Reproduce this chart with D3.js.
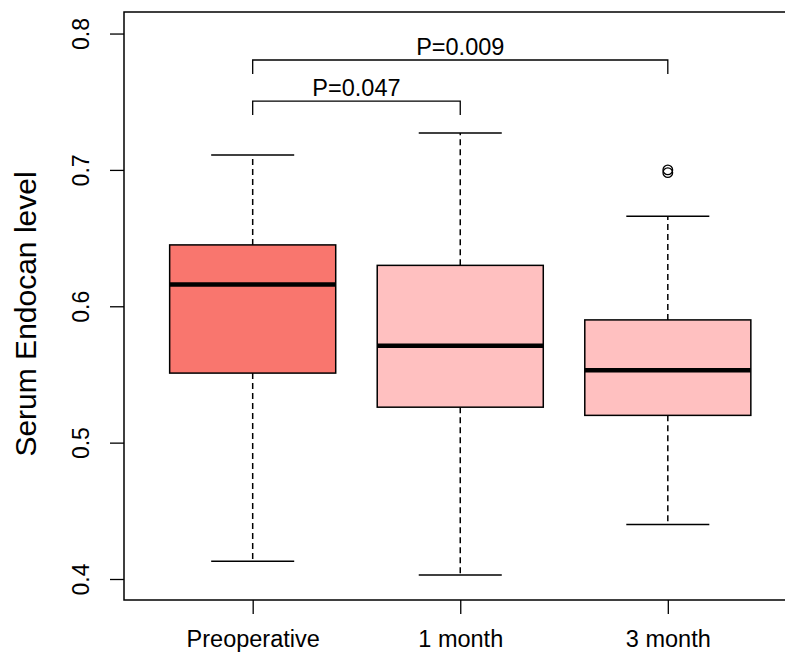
<!DOCTYPE html>
<html>
<head>
<meta charset="utf-8">
<script src="https://cdn.jsdelivr.net/npm/d3@7"></script>
<style>
html,body{margin:0;padding:0;background:#fff;}
svg{display:block;}
text{font-family:"Liberation Sans",Arial,sans-serif;fill:#000;}
</style>
</head>
<body>
<svg id="chart" width="785" height="656"></svg>
<script>
const categories = ["Preoperative", "1 month", "3 month"];
const whiskerLow  = [0.413, 0.403, 0.440];
const q1          = [0.551, 0.526, 0.520];
const medians     = [0.616, 0.571, 0.553];
const q3          = [0.645, 0.630, 0.590];
const whiskerHigh = [0.711, 0.727, 0.666];
const outliers    = [[], [], [0.700, 0.698]];
const fills       = ["#F9766E", "#FFC0C0", "#FFC0C0"];
const yTicks      = [0.4, 0.5, 0.6, 0.7, 0.8];
const comparisons = [
  {from: 0, to: 1, label: "P=0.047", level: 0.7505, drop: 0.0103},
  {from: 0, to: 2, label: "P=0.009", level: 0.7806, drop: 0.0103}
];

const svg = d3.select("#chart");
const x = d3.scaleLinear().domain([0.38, 3.62]).range([124, 796.5]);
const y = d3.scaleLinear().domain([0.3846, 0.8158]).range([600, 12]);
const boxW = x(1.4) - x(0.6);
const capW = boxW / 2;
const FONT = '"Liberation Sans",Arial,sans-serif';

// frame
svg.append("rect")
  .attr("x", x(0.38)).attr("y", y(0.8158))
  .attr("width", x(3.62) - x(0.38)).attr("height", y(0.3846) - y(0.8158))
  .attr("fill", "none").attr("stroke", "#000").attr("stroke-width", 1.5);

// y axis
const yAxis = d3.axisLeft(y).tickValues(yTicks).tickSize(14).tickFormat(d3.format(".1f"));
const gy = svg.append("g").attr("transform", `translate(${x(0.38)},0)`).call(yAxis);
gy.select(".domain").remove();
gy.selectAll(".tick line").attr("stroke", "#000").attr("stroke-width", 1.3);
gy.selectAll(".tick text")
  .attr("x", 0).attr("y", 0)
  .attr("transform", "translate(-43,0) rotate(-90)")
  .attr("text-anchor", "middle").attr("dy", "0.36em")
  .style("font-size", "23px").style("font-family", FONT);

// x axis
const xAxis = d3.axisBottom(x).tickValues([1, 2, 3]).tickSize(14).tickFormat((d) => categories[d - 1]);
const gx = svg.append("g").attr("transform", `translate(0,${y(0.3846)})`).call(xAxis);
gx.select(".domain").remove();
gx.selectAll(".tick line").attr("stroke", "#000").attr("stroke-width", 1.3);
gx.selectAll(".tick text")
  .attr("y", 47).attr("dy", 0)
  .style("font-size", "23.5px").style("font-family", FONT);

// y label
svg.append("text")
  .attr("transform", `translate(36,${(y(0.3846) + y(0.8158)) / 2 + 8}) rotate(-90)`)
  .attr("text-anchor", "middle")
  .style("font-size", "30px")
  .text("Serum Endocan level");

// boxes
categories.forEach((c, i) => {
  const cx = x(i + 1);
  const g = svg.append("g");
  // whiskers
  g.append("line").attr("x1", cx).attr("x2", cx).attr("y1", y(q3[i])).attr("y2", y(whiskerHigh[i]))
    .attr("stroke", "#000").attr("stroke-width", 1.5).attr("stroke-dasharray", "6,4");
  g.append("line").attr("x1", cx).attr("x2", cx).attr("y1", y(q1[i])).attr("y2", y(whiskerLow[i]))
    .attr("stroke", "#000").attr("stroke-width", 1.5).attr("stroke-dasharray", "6,4");
  // caps
  [whiskerHigh[i], whiskerLow[i]].forEach(v => {
    g.append("line").attr("x1", cx - capW / 2).attr("x2", cx + capW / 2).attr("y1", y(v)).attr("y2", y(v))
      .attr("stroke", "#000").attr("stroke-width", 1.5);
  });
  // box
  g.append("rect").attr("x", cx - boxW / 2).attr("y", y(q3[i]))
    .attr("width", boxW).attr("height", y(q1[i]) - y(q3[i]))
    .attr("fill", fills[i]).attr("stroke", "#000").attr("stroke-width", 1.5);
  // median
  g.append("line").attr("x1", cx - boxW / 2).attr("x2", cx + boxW / 2).attr("y1", y(medians[i])).attr("y2", y(medians[i]))
    .attr("stroke", "#000").attr("stroke-width", 4.5);
  // outliers
  outliers[i].forEach(v => {
    g.append("circle").attr("cx", cx).attr("cy", y(v)).attr("r", 4.8)
      .attr("fill", "none").attr("stroke", "#000").attr("stroke-width", 1.3);
  });
});

// comparison brackets
comparisons.forEach(cmp => {
  const x1 = x(cmp.from + 1), x2 = x(cmp.to + 1);
  const yl = y(cmp.level), yd = y(cmp.level - cmp.drop);
  svg.append("path")
    .attr("d", `M${x1},${yd}V${yl}H${x2}V${yd}`)
    .attr("fill", "none").attr("stroke", "#000").attr("stroke-width", 1.3);
  svg.append("text")
    .attr("x", (x1 + x2) / 2).attr("y", yl - 5)
    .attr("text-anchor", "middle").style("font-size", "23.5px")
    .text(cmp.label);
});
</script>
</body>
</html>
